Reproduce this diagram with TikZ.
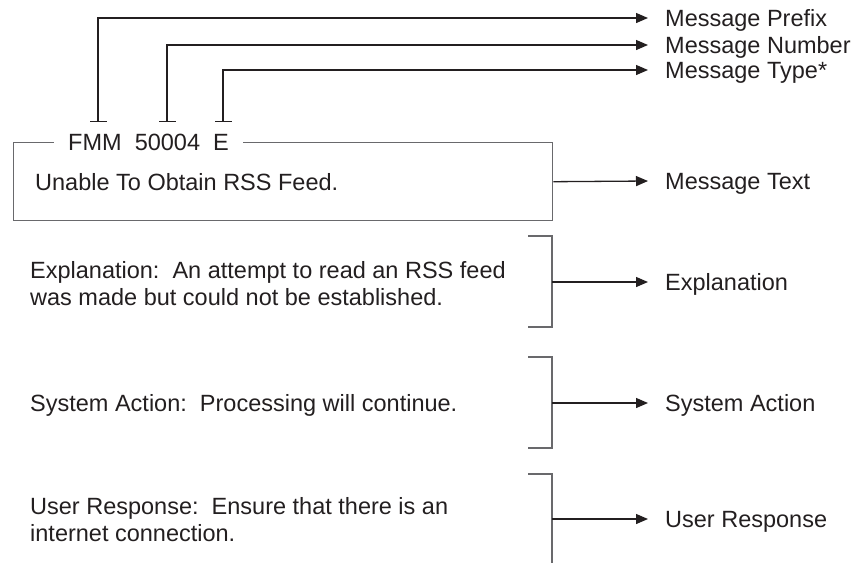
\documentclass[tikz,border=0pt]{standalone}
\usepackage{fontspec}
\setmainfont{Liberation Sans}
\usetikzlibrary{arrows.meta}
\definecolor{inkc}{RGB}{35,31,32}
\definecolor{boxc}{RGB}{105,105,108}
\begin{document}
\begin{tikzpicture}[x=1pt,y=-1pt,
  every node/.style={font=\fontsize{23.5}{27}\selectfont, text=inkc},
  rlabel/.style={anchor=west, inner ysep=0pt, inner xsep=17pt, text height=16.8pt, text depth=0pt},
  ltext/.style={anchor=base west, inner sep=0pt, align=left},
  conn/.style={draw=inkc, line width=1.3pt, -{Triangle[length=12pt,width=10pt]}},
  tickconn/.style={conn, {Bar[width=17pt,line width=1.3pt]}-{Triangle[length=12pt,width=10pt]}},
  boxline/.style={draw=boxc, line width=1.4pt},
  bracketline/.style={draw=boxc, line width=1.4pt}
]
\useasboundingbox (0,0) rectangle (857,563);

% right-hand labels
\node[rlabel] (prefix) at (648,18) {Message Prefix};
\node[rlabel] (number) at (648,45) {Message Number};
\node[rlabel] (mtype)  at (648,70) {Message Type*};
\node[rlabel] (mtext)  at (648,181) {Message Text};
\node[rlabel] (expl)   at (648,282) {Explanation};
\node[rlabel] (sysact) at (648,403) {System Action};
\node[rlabel] (usrrsp) at (648,519) {User Response};

% message box
\node[boxline, anchor=north west, minimum width=539pt, minimum height=78pt, inner sep=0pt] (box) at (13,142) {};
\node[anchor=west, fill=white, inner xsep=14pt, inner ysep=0pt, text height=16.8pt, text depth=0pt] (hdr) at (54,142) {FMM\ \ 50004\ \ E};
\node[anchor=west, inner sep=0pt, text height=16.8pt, text depth=0pt] (unable) at (35,182) {Unable To Obtain RSS Feed.};

% header ticks
\coordinate (tfmm) at (98,122);
\coordinate (tnum) at (167,122);
\coordinate (ttyp) at (223,122);
\draw[tickconn] (tfmm) |- (prefix.west);
\draw[tickconn] (tnum) |- (number.west);
\draw[tickconn] (ttyp) |- (mtype.west);

\draw[conn] (box.east) -- (mtext.west);

% left texts (base anchor = baseline of last line)
\node[ltext] (explt) at (30,305.4) {Explanation:\ \ An attempt to read an RSS feed\\was made but could not be established.};
\node[ltext] (syst) at (30,411.4) {System Action:\ \ Processing will continue.};
\node[ltext] (usrt) at (30,541.4) {User Response:\ \ Ensure that there is an\\internet connection.};

% brackets
\draw[bracketline] (528,236) -- (552,236) -- (552,327) -- (528,327);
\coordinate (bexpl) at (552,282);
\draw[conn] (bexpl) -- (expl.west);

\draw[bracketline] (528,357) -- (552,357) -- (552,448) -- (528,448);
\coordinate (bsys) at (552,403);
\draw[conn] (bsys) -- (sysact.west);

\draw[bracketline] (528,474) -- (552,474) -- (552,563);
\coordinate (busr) at (552,519);
\draw[conn] (busr) -- (usrrsp.west);
\end{tikzpicture}
\end{document}
